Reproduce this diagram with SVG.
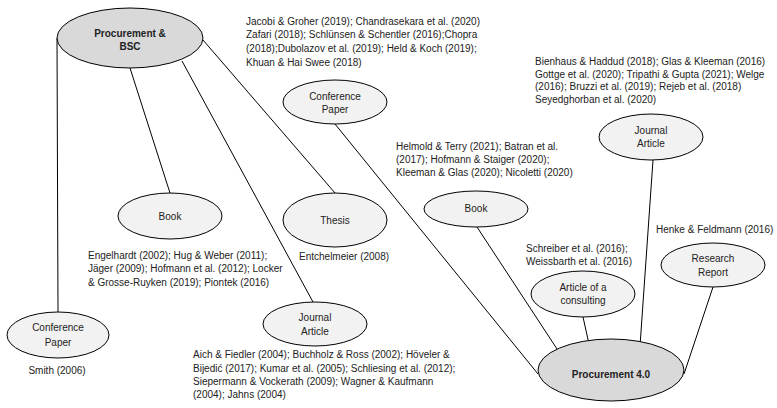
<svg xmlns="http://www.w3.org/2000/svg" width="777" height="408" viewBox="0 0 777 408">
<style>
  text { font-family: "Liberation Sans", Arial, sans-serif; font-size: 10px; fill: #222; }
  .lbl { text-anchor: middle; }
  .bold { font-weight: bold; }
  .main { fill: #d9d9d9; stroke: #000; stroke-width: 1; }
  .sub { fill: #f2f2f2; stroke: #000; stroke-width: 1; }
  .conn line { stroke: #000; stroke-width: 1; }
</style>
<rect width="777" height="408" fill="#fff"/>
<g id="connectors" class="conn">
  <line x1="57" y1="38" x2="58" y2="313"/>
  <line x1="130" y1="68" x2="170" y2="193"/>
  <line x1="182" y1="61" x2="313" y2="302"/>
  <line x1="203" y1="40" x2="335" y2="193"/>
  <line x1="335" y1="124" x2="538" y2="374"/>
  <line x1="477" y1="227" x2="559" y2="352"/>
  <line x1="653" y1="160" x2="640" y2="346"/>
  <line x1="583" y1="317" x2="589" y2="344"/>
  <line x1="713" y1="287" x2="684" y2="374"/>
</g>
<g id="procurement-bsc">
  <ellipse class="main" cx="130" cy="38" rx="73" ry="30"/>
  <text class="lbl bold" x="130" y="37">Procurement &amp;</text>
  <text class="lbl bold" x="130" y="50">BSC</text>
</g>
<g id="procurement-40">
  <ellipse class="main" cx="611" cy="370" rx="73" ry="31"/>
  <text class="lbl bold" x="611" y="378">Procurement 4.0</text>
</g>
<g id="conf-paper-left">
  <ellipse class="sub" cx="58" cy="335" rx="51" ry="23"/>
  <text class="lbl" x="58" y="331">Conference</text>
  <text class="lbl" x="58" y="346">Paper</text>
  <text class="lbl" x="57" y="374">Smith (2006)</text>
</g>
<g id="book-left">
  <ellipse class="sub" cx="170" cy="216" rx="52" ry="23"/>
  <text class="lbl" x="170" y="220">Book</text>
  <text x="88" y="259">Engelhardt (2002); Hug &amp; Weber (2011);</text>
  <text x="88" y="272">Jäger (2009); Hofmann et al. (2012); Locker</text>
  <text x="88" y="286">&amp; Grosse-Ruyken (2019); Piontek (2016)</text>
</g>
<g id="journal-article-left">
  <ellipse class="sub" cx="315" cy="324" rx="52" ry="22"/>
  <text class="lbl" x="315" y="321">Journal</text>
  <text class="lbl" x="315" y="335">Article</text>
  <text x="193" y="358">Aich &amp; Fiedler (2004); Buchholz &amp;  Ross (2002); Höveler &amp;</text>
  <text x="193" y="372">Bijedić (2017); Kumar et al. (2005); Schliesing et al. (2012);</text>
  <text x="193" y="385">Siepermann &amp; Vockerath (2009); Wagner &amp; Kaufmann</text>
  <text x="193" y="398">(2004); Jahns (2004)</text>
</g>
<g id="thesis">
  <ellipse class="sub" cx="335" cy="220" rx="52" ry="27"/>
  <text class="lbl" x="335" y="224">Thesis</text>
  <text x="299" y="260">Entchelmeier (2008)</text>
</g>
<g id="conf-paper-top">
  <ellipse class="sub" cx="335" cy="102" rx="52" ry="22"/>
  <text class="lbl" x="335" y="100">Conference</text>
  <text class="lbl" x="335" y="113">Paper</text>
  <text x="246" y="25">Jacobi &amp; Groher (2019); Chandrasekara et al. (2020)</text>
  <text x="246" y="38">Zafari (2018); Schlünsen &amp; Schentler (2016);Chopra</text>
  <text x="246" y="52">(2018);Dubolazov et al. (2019); Held &amp; Koch (2019);</text>
  <text x="246" y="66">Khuan &amp; Hai Swee (2018)</text>
</g>
<g id="book-right">
  <ellipse class="sub" cx="476" cy="209" rx="52" ry="18"/>
  <text class="lbl" x="476" y="212">Book</text>
  <text x="396" y="150">Helmold &amp; Terry (2021); Batran et al.</text>
  <text x="396" y="163">(2017); Hofmann &amp; Staiger (2020);</text>
  <text x="396" y="176">Kleeman &amp; Glas (2020); Nicoletti (2020)</text>
</g>
<g id="journal-article-right">
  <ellipse class="sub" cx="651" cy="137" rx="52" ry="23"/>
  <text class="lbl" x="651" y="134">Journal</text>
  <text class="lbl" x="651" y="147">Article</text>
  <text x="535" y="65">Bienhaus &amp; Haddud (2018); Glas &amp; Kleeman (2016)</text>
  <text x="535" y="78">Gottge et al. (2020); Tripathi &amp; Gupta (2021); Welge</text>
  <text x="535" y="90">(2016); Bruzzi et al. (2019); Rejeb et al. (2018)</text>
  <text x="535" y="103">Seyedghorban et al. (2020)</text>
</g>
<g id="article-consulting">
  <ellipse class="sub" cx="583" cy="294" rx="52" ry="23"/>
  <text class="lbl" x="583" y="291">Article of a</text>
  <text class="lbl" x="583" y="304">consulting</text>
  <text x="526" y="252">Schreiber et al. (2016);</text>
  <text x="526" y="265">Weissbarth et al. (2016)</text>
</g>
<g id="research-report">
  <ellipse class="sub" cx="713" cy="265" rx="52" ry="22"/>
  <text class="lbl" x="713" y="262">Research</text>
  <text class="lbl" x="713" y="276">Report</text>
  <text x="656" y="233">Henke &amp; Feldmann (2016)</text>
</g>
</svg>
